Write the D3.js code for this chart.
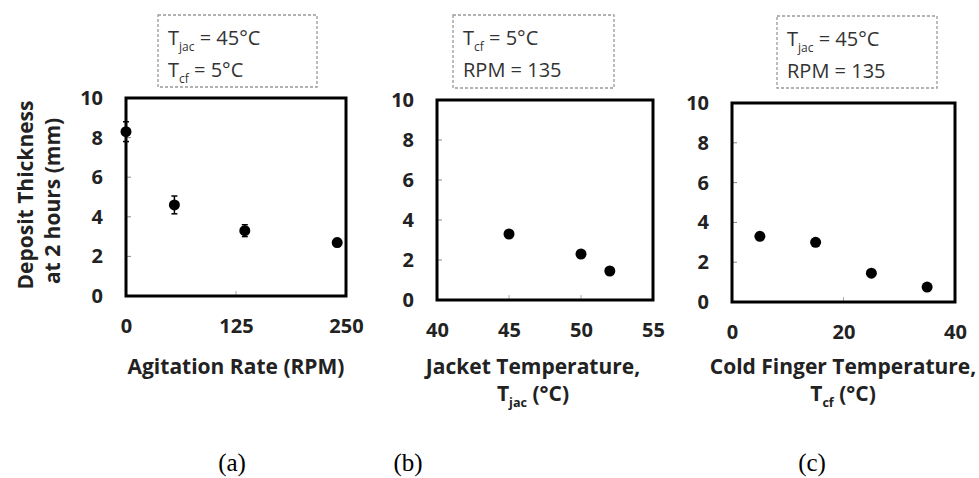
<!DOCTYPE html>
<html>
<head>
<meta charset="utf-8">
<script src="https://cdn.jsdelivr.net/npm/d3@7"></script>
<style>
  body { margin: 0; background: #fff; }
  svg { display: block; }
  .tick text { font-family: "Open Sans", sans-serif; font-weight: 700; font-size: 20px; fill: #222; }
  .title { font-family: "Open Sans", sans-serif; font-weight: 700; font-size: 21px; fill: #222; }
  .note { font-family: "Open Sans", sans-serif; font-size: 20px; fill: #333; }
  .cap { font-family: "Liberation Serif", "Times New Roman", serif; font-size: 25px; fill: #000; }
</style>
</head>
<body>
<div id="chart"></div>
<script>
// data
var yTicks = [0, 2, 4, 6, 8, 10];

var rpmA = [0, 55, 135, 240];
var thickA = [8.3, 4.6, 3.3, 2.7];
var errA = [0.5, 0.45, 0.3, 0.2];
var xTicksA = [0, 125, 250];

var tjacB = [45, 50, 52];
var thickB = [3.3, 2.3, 1.45];
var xTicksB = [40, 45, 50, 55];

var tcfC = [5, 15, 25, 35];
var thickC = [3.3, 3.0, 1.45, 0.75];
var xTicksC = [0, 20, 40];

var width = 979, height = 478;

var svg = d3.select("#chart").append("svg")
    .attr("width", width)
    .attr("height", height);

// each panel: box position, x domain, notes above
var panels = [
  {x0: 126, x1: 346, y0: 98, y1: 296, dom: [0, 250], ticks: xTicksA,
   xs: rpmA, ys: thickA, err: errA,
   note: {x: 158, y: 15, w: 159, h: 72, lines: [["T", "jac", " = 45°C"], ["T", "cf", " = 5°C"]]},
   title: [["Agitation Rate (RPM)"]], titleX: 236, cap: "(a)", capX: 232},
  {x0: 437, x1: 653, y0: 100, y1: 300, dom: [40, 55], ticks: xTicksB,
   xs: tjacB, ys: thickB, err: null,
   note: {x: 453, y: 15, w: 161, h: 73, lines: [["T", "cf", " = 5°C"], ["RPM = 135"]]},
   title: [["Jacket Temperature,"], ["T", "jac", " (°C)"]], titleX: 533, cap: "(b)", capX: 408},
  {x0: 732, x1: 955, y0: 103, y1: 302, dom: [0, 40], ticks: xTicksC,
   xs: tcfC, ys: thickC, err: null,
   note: {x: 777, y: 16, w: 160, h: 72, lines: [["T", "jac", " = 45°C"], ["RPM = 135"]]},
   title: [["Cold Finger Temperature,"], ["T", "cf", " (°C)"]], titleX: 843, cap: "(c)", capX: 812}
];

function subText(sel, parts, big) {
  sel.append("tspan").text(parts[0]);
  if (parts.length > 1) {
    sel.append("tspan").attr("dy", 6).attr("font-size", big * 0.6).text(parts[1]);
    sel.append("tspan").attr("dy", -6).text(parts[2]);
  }
}

panels.forEach(function(p) {
  var x = d3.scaleLinear().domain(p.dom).range([p.x0, p.x1]);
  var y = d3.scaleLinear().domain([0, 10]).range([p.y1, p.y0]);
  var g = svg.append("g");

  // inner ticks
  g.selectAll(".ity").data(yTicks.slice(1, -1)).enter().append("line")
    .attr("x1", p.x0).attr("x2", p.x0 + 5)
    .attr("y1", function(d) { return y(d); }).attr("y2", function(d) { return y(d); })
    .attr("stroke", "#888").attr("stroke-width", 1);
  g.selectAll(".itx").data(p.ticks.slice(1, -1)).enter().append("line")
    .attr("x1", function(d) { return x(d); }).attr("x2", function(d) { return x(d); })
    .attr("y1", p.y1).attr("y2", p.y1 - 5)
    .attr("stroke", "#aaa").attr("stroke-width", 1);

  var ya = g.append("g").attr("transform", "translate(" + p.x0 + ",0)")
    .call(d3.axisLeft(y).tickValues(yTicks).tickSize(0).tickPadding(23));
  ya.select(".domain").remove();

  var xa = g.append("g").attr("transform", "translate(0," + p.y1 + ")")
    .call(d3.axisBottom(x).tickValues(p.ticks).tickSize(0).tickPadding(23));
  xa.select(".domain").remove();

  // frame
  g.append("rect")
    .attr("x", p.x0).attr("y", p.y0)
    .attr("width", p.x1 - p.x0).attr("height", p.y1 - p.y0)
    .attr("fill", "none").attr("stroke", "#000").attr("stroke-width", 3);

  var pts = p.xs.map(function(v, i) { return {x: v, y: p.ys[i], e: p.err ? p.err[i] : 0}; });

  // error bars
  var eb = g.selectAll(".eb").data(pts.filter(function(d) { return d.e > 0; })).enter().append("g");
  eb.append("line")
    .attr("x1", function(d) { return x(d.x); }).attr("x2", function(d) { return x(d.x); })
    .attr("y1", function(d) { return y(d.y - d.e); }).attr("y2", function(d) { return y(d.y + d.e); })
    .attr("stroke", "#000").attr("stroke-width", 1.5);
  [-1, 1].forEach(function(s) {
    eb.append("line")
      .attr("x1", function(d) { return x(d.x) - 3; }).attr("x2", function(d) { return x(d.x) + 3; })
      .attr("y1", function(d) { return y(d.y + s * d.e); }).attr("y2", function(d) { return y(d.y + s * d.e); })
      .attr("stroke", "#000").attr("stroke-width", 1.5);
  });

  g.selectAll(".dot").data(pts).enter().append("circle")
    .attr("cx", function(d) { return x(d.x); })
    .attr("cy", function(d) { return y(d.y); })
    .attr("r", 5.5).attr("fill", "#000");

  // note box
  var n = p.note;
  g.append("rect")
    .attr("x", n.x).attr("y", n.y).attr("width", n.w).attr("height", n.h)
    .attr("fill", "none").attr("stroke", "#999").attr("stroke-width", 1.3)
    .attr("stroke-dasharray", "3,2");
  n.lines.forEach(function(l, i) {
    var t = g.append("text").attr("class", "note")
      .attr("x", n.x + 10).attr("y", n.y + 30 + i * 32);
    subText(t, l, 20);
  });

  // x title
  p.title.forEach(function(l, i) {
    var t = g.append("text").attr("class", "title")
      .attr("text-anchor", "middle")
      .attr("x", p.titleX).attr("y", 374 + i * 27);
    subText(t, l, 21);
  });

  svg.append("text").attr("class", "cap")
    .attr("text-anchor", "middle")
    .attr("x", p.capX).attr("y", 471)
    .text(p.cap);
});

// y title on the first panel
svg.append("text").attr("class", "title")
  .attr("text-anchor", "middle")
  .attr("transform", "translate(33,195) rotate(-90)")
  .text("Deposit Thickness");
svg.append("text").attr("class", "title")
  .attr("text-anchor", "middle")
  .attr("transform", "translate(60,201) rotate(-90)")
  .text("at 2 hours (mm)");
</script>
</body>
</html>
